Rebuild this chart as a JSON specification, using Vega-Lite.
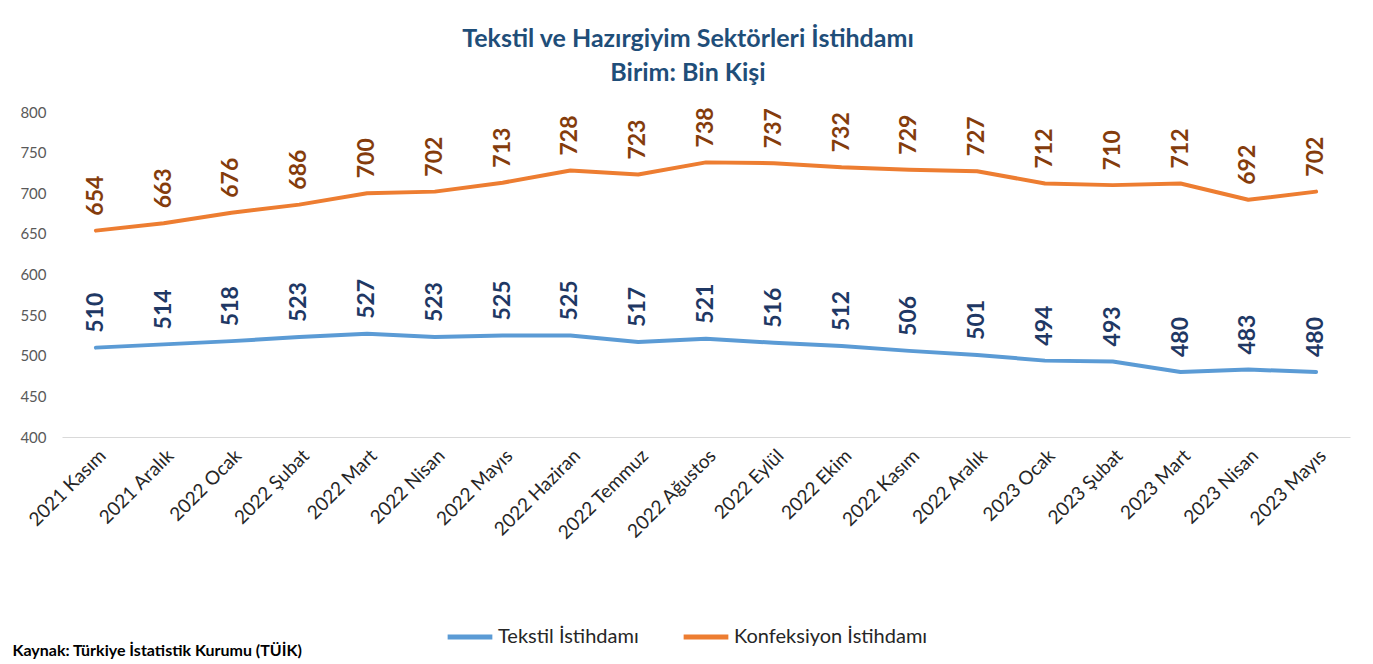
{
  "$schema": "https://vega.github.io/schema/vega-lite/v6.json",
  "width": 1288,
  "height": 325,
  "autosize": {"type": "none"},
  "padding": {"left": 62, "top": 112, "right": 23, "bottom": 227},
  "background": "white",
  "config": {"view": {"stroke": null}, "font": "Lato"},
  "title": {
    "text": ["Tekstil ve Hazırgiyim Sektörleri İstihdamı", "Birim: Bin Kişi"],
    "anchor": "middle",
    "frame": "group",
    "dx": -18,
    "offset": 19,
    "fontSize": 25,
    "fontWeight": "bold",
    "color": "#1F4E79",
    "lineHeight": 34
  },
  "data": {"values": [
    {"ay": "2021 Kasım", "seri": "Tekstil İstihdamı", "deger": 510},
    {"ay": "2021 Aralık", "seri": "Tekstil İstihdamı", "deger": 514},
    {"ay": "2022 Ocak", "seri": "Tekstil İstihdamı", "deger": 518},
    {"ay": "2022 Şubat", "seri": "Tekstil İstihdamı", "deger": 523},
    {"ay": "2022 Mart", "seri": "Tekstil İstihdamı", "deger": 527},
    {"ay": "2022 Nisan", "seri": "Tekstil İstihdamı", "deger": 523},
    {"ay": "2022 Mayıs", "seri": "Tekstil İstihdamı", "deger": 525},
    {"ay": "2022 Haziran", "seri": "Tekstil İstihdamı", "deger": 525},
    {"ay": "2022 Temmuz", "seri": "Tekstil İstihdamı", "deger": 517},
    {"ay": "2022 Ağustos", "seri": "Tekstil İstihdamı", "deger": 521},
    {"ay": "2022 Eylül", "seri": "Tekstil İstihdamı", "deger": 516},
    {"ay": "2022 Ekim", "seri": "Tekstil İstihdamı", "deger": 512},
    {"ay": "2022 Kasım", "seri": "Tekstil İstihdamı", "deger": 506},
    {"ay": "2022 Aralık", "seri": "Tekstil İstihdamı", "deger": 501},
    {"ay": "2023 Ocak", "seri": "Tekstil İstihdamı", "deger": 494},
    {"ay": "2023 Şubat", "seri": "Tekstil İstihdamı", "deger": 493},
    {"ay": "2023 Mart", "seri": "Tekstil İstihdamı", "deger": 480},
    {"ay": "2023 Nisan", "seri": "Tekstil İstihdamı", "deger": 483},
    {"ay": "2023 Mayıs", "seri": "Tekstil İstihdamı", "deger": 480},
    {"ay": "2021 Kasım", "seri": "Konfeksiyon İstihdamı", "deger": 654},
    {"ay": "2021 Aralık", "seri": "Konfeksiyon İstihdamı", "deger": 663},
    {"ay": "2022 Ocak", "seri": "Konfeksiyon İstihdamı", "deger": 676},
    {"ay": "2022 Şubat", "seri": "Konfeksiyon İstihdamı", "deger": 686},
    {"ay": "2022 Mart", "seri": "Konfeksiyon İstihdamı", "deger": 700},
    {"ay": "2022 Nisan", "seri": "Konfeksiyon İstihdamı", "deger": 702},
    {"ay": "2022 Mayıs", "seri": "Konfeksiyon İstihdamı", "deger": 713},
    {"ay": "2022 Haziran", "seri": "Konfeksiyon İstihdamı", "deger": 728},
    {"ay": "2022 Temmuz", "seri": "Konfeksiyon İstihdamı", "deger": 723},
    {"ay": "2022 Ağustos", "seri": "Konfeksiyon İstihdamı", "deger": 738},
    {"ay": "2022 Eylül", "seri": "Konfeksiyon İstihdamı", "deger": 737},
    {"ay": "2022 Ekim", "seri": "Konfeksiyon İstihdamı", "deger": 732},
    {"ay": "2022 Kasım", "seri": "Konfeksiyon İstihdamı", "deger": 729},
    {"ay": "2022 Aralık", "seri": "Konfeksiyon İstihdamı", "deger": 727},
    {"ay": "2023 Ocak", "seri": "Konfeksiyon İstihdamı", "deger": 712},
    {"ay": "2023 Şubat", "seri": "Konfeksiyon İstihdamı", "deger": 710},
    {"ay": "2023 Mart", "seri": "Konfeksiyon İstihdamı", "deger": 712},
    {"ay": "2023 Nisan", "seri": "Konfeksiyon İstihdamı", "deger": 692},
    {"ay": "2023 Mayıs", "seri": "Konfeksiyon İstihdamı", "deger": 702}
  ]},
  "encoding": {
    "x": {
      "field": "ay",
      "type": "nominal",
      "sort": null,
      "scale": {"paddingInner": 0, "paddingOuter": 0},
      "axis": {
        "title": "Kaynak: Türkiye İstatistik Kurumu (TÜİK)",
        "titleX": -50,
        "titleY": 213,
        "titleAnchor": null,
        "titleAlign": "left",
        "titleBaseline": "middle",
        "titleFontSize": 16,
        "titleFontWeight": "bold",
        "titleColor": "#000000",
        "labelAngle": -45,
        "labelAlign": "right",
        "labelBaseline": "top",
        "labelFontSize": 19,
        "labelColor": "#262626",
        "labelPadding": 9,
        "labelLimit": 0,
        "ticks": false,
        "domainColor": "#D9D9D9",
        "domainWidth": 1,
        "grid": false
      }
    },
    "y": {
      "field": "deger",
      "type": "quantitative",
      "scale": {"domain": [400, 800], "nice": false, "zero": false},
      "axis": {
        "title": null,
        "values": [400, 450, 500, 550, 600, 650, 700, 750, 800],
        "grid": false,
        "domain": false,
        "ticks": false,
        "labelPadding": 16,
        "labelFontSize": 15,
        "labelColor": "#595959"
      }
    }
  },
  "layer": [
    {
      "mark": {"type": "line", "strokeWidth": 4, "strokeCap": "round", "strokeJoin": "round"},
      "encoding": {
        "color": {
          "field": "seri",
          "type": "nominal",
          "scale": {"domain": ["Tekstil İstihdamı", "Konfeksiyon İstihdamı"], "range": ["#5B9BD5", "#ED7D31"]},
          "legend": {
            "title": null,
            "orient": "none",
            "direction": "horizontal",
            "legendX": 383,
            "legendY": 500,
            "symbolType": "stroke",
            "symbolSize": 2000,
            "symbolStrokeWidth": 5,
            "labelFontSize": 20,
            "labelColor": "#262626",
            "labelOffset": 3,
            "labelLimit": 0,
            "columnPadding": 34
          }
        }
      }
    },
    {
      "mark": {"type": "text", "angle": 270, "align": "left", "baseline": "middle", "dx": 15, "fontSize": 23, "fontWeight": "bold"},
      "encoding": {
        "text": {"field": "deger", "type": "quantitative"},
        "color": {
          "field": "seri",
          "type": "nominal",
          "scale": {"domain": ["Tekstil İstihdamı", "Konfeksiyon İstihdamı"], "range": ["#1F3864", "#843C0C"]},
          "legend": null
        }
      }
    }
  ],
  "resolve": {"scale": {"color": "independent"}}
}
